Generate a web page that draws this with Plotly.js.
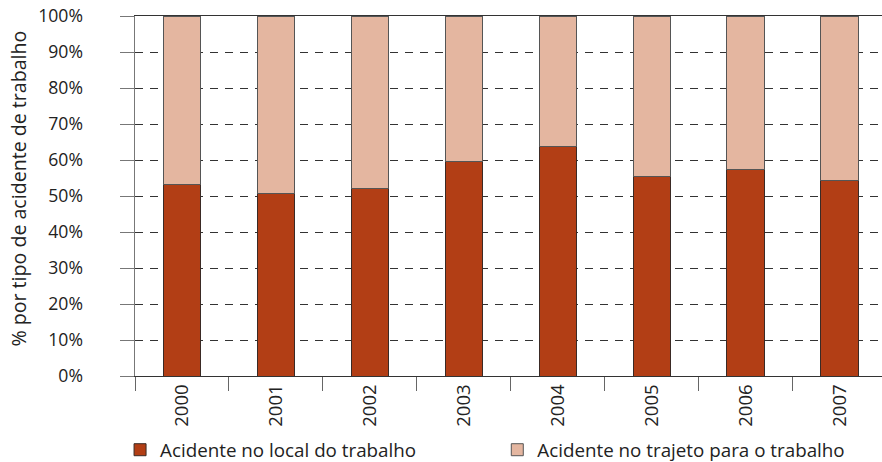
<!DOCTYPE html>
<html>
<head>
<meta charset="utf-8">
<script src="https://cdn.plot.ly/plotly-3.0.1.min.js"></script>
<style>html,body{margin:0;padding:0;background:#fff;}#chart{width:882px;height:462px;}</style>
</head>
<body>
<div id="chart"></div>
<script>
const years = ["2000","2001","2002","2003","2004","2005","2006","2007"];
const localTrabalho = [53.2, 50.6, 52.1, 59.6, 63.8, 55.4, 57.4, 54.3];
const trajetoTrabalho = [46.8, 49.4, 47.9, 40.4, 36.2, 44.6, 42.6, 45.7];
const yTicks = [0,10,20,30,40,50,60,70,80,90,100];
const yTickLabels = ["0%","10%","20%","30%","40%","50%","60%","70%","80%","90%","100%"];
const seriesNames = ["Acidente no local do trabalho", "Acidente no trajeto para o trabalho"];
const yTitle = "% por tipo de acidente de trabalho";

const FONT = "Open Sans, Noto Sans, sans-serif";
const traces = [
  {type:"bar", name:seriesNames[0], x:years, y:localTrabalho, width:0.4, legend:"legend",
   marker:{color:"#B23E15", line:{color:"#3a2a25", width:1}}},
  {type:"bar", name:seriesNames[1], x:years, y:trajetoTrabalho, width:0.4, legend:"legend2",
   marker:{color:"#E4B6A0", line:{color:"#555", width:1}}}
];
const legendBase = {orientation:"h", xanchor:"left", yref:"container", y:0.026, yanchor:"middle",
  bgcolor:"rgba(0,0,0,0)", font:{family:FONT, size:18.8, color:"#222"}, itemwidth:30};
const layout = {
  width:882, height:462,
  margin:{l:135, r:0, t:16, b:86},
  barmode:"stack",
  paper_bgcolor:"#fff", plot_bgcolor:"#fff",
  font:{family:FONT, size:16, color:"#222"},
  showlegend:true,
  legend:Object.assign({}, legendBase, {x:-0.020}),
  legend2:Object.assign({}, legendBase, {x:0.485}),
  xaxis:{type:"category", range:[-0.5, 7.45], tickson:"boundaries",
         ticks:"outside", ticklen:14, tickcolor:"#666", tickwidth:1,
         showline:true, linecolor:"#333", linewidth:1, mirror:true,
         showgrid:false, tickangle:-90, tickfont:{size:18.5, color:"#222"},
         ticklabelstandoff:0, automargin:false, fixedrange:true},
  yaxis:{range:[0,100], tickvals:yTicks, ticktext:yTickLabels,
         ticks:"outside", ticklen:14, tickcolor:"#777", tickwidth:1,
         showline:true, linecolor:"#777", linewidth:1.5,
         showgrid:true, gridcolor:"#333", gridwidth:1, griddash:"8px,7px",
         zeroline:false, tickfont:{size:17.6, color:"#222"},
         ticklabelstandoff:33, automargin:false, fixedrange:true},
  annotations:[{text:yTitle, xref:"paper", yref:"paper", x:-0.156, y:0.522,
                xanchor:"center", yanchor:"middle", textangle:-90, showarrow:false,
                font:{family:FONT, size:19.6, color:"#222"}}]
};
Plotly.newPlot("chart", traces, layout, {displayModeBar:false, staticPlot:true});
</script>
</body>
</html>
